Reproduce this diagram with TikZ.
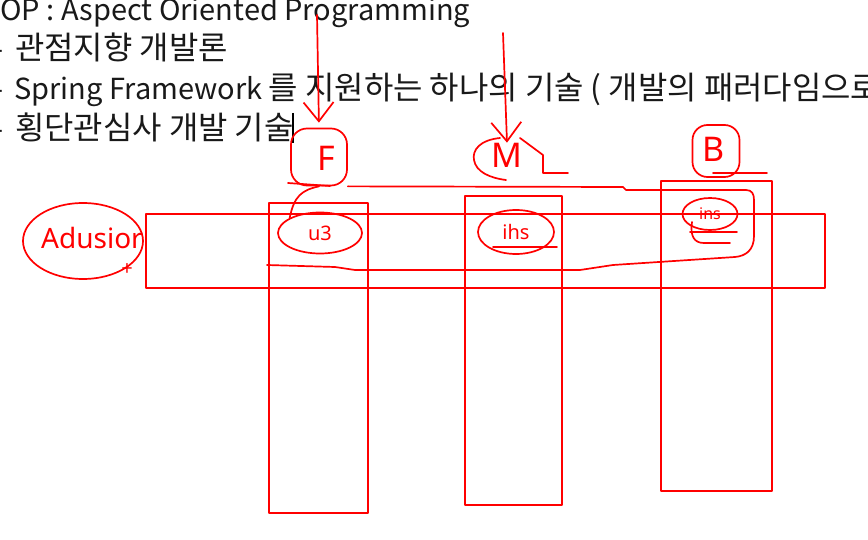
\documentclass[tikz,border=0pt]{standalone}
\usepackage{fontspec}
\setmainfont{Noto Sans CJK KR}
\newfontfamily\kr[Scale=1.1]{Noto Sans CJK KR}
\newfontfamily\hand{Noto Sans}
\usetikzlibrary{shapes.geometric,arrows.meta}
\begin{document}
\begin{tikzpicture}[x=1pt,y=-1pt,
  ink/.style={draw=red, line width=1.7pt, line cap=round, line join=round},
  txtline/.style={font=\fontsize{29}{34}\selectfont, anchor=base west, inner sep=0pt, text=black!90},
  dashmark/.style={font=\fontsize{29}{34}\selectfont, anchor=base east, inner sep=0pt, text=black!90},
  hw/.style={text=red, inner sep=0pt, font=\hand\fontsize{20}{22}\selectfont},
  big/.style={text=red, inner sep=0pt, font=\hand\fontsize{34}{36}\selectfont},
  barb/.style={-{Straight Barb[length=19pt,width=30pt,line width=1.7pt]}},
]
\useasboundingbox (0,0) rectangle (868,540);
\fill[white] (0,0) rectangle (868,540);

% text lines
\node[txtline] (t1) at (0,21) {OP : Aspect Oriented Programming};
\node[dashmark] (d2) at (4,60) {-};
\node[txtline] (t2) at (15,60) {\kr 관점지향 개발론};
\node[dashmark] (d3) at (4,100) {-};
\node[txtline] (t3) at (14,100) {Spring Framework {\kr 를 지원하는 하나의 기술 ( 개발의 패러다임으로}};
\node[dashmark] (d4) at (4,140) {-};
\node[txtline] (t4) at (15,140) {\kr 횡단관심사 개발 기술};
\draw[black, line width=1.2pt] (293,113) -- (293,143);

% rectangles
\draw[ink] (146,214) rectangle (825,288);
\draw[ink] (269,203) rectangle (368,513);
\draw[ink] (465,196) rectangle (562,505);
\draw[ink] (661,181) rectangle (772,491);

% F
\node[draw=red, line width=1.7pt, rounded corners=16pt, minimum width=56pt, minimum height=57pt] (Fbox) at (319,157) {};
\node[big] (F) at (326,158) {F};
\coordinate (Ftop) at (317,15);
\draw[ink, barb, shorten >=5pt] (Ftop) -- (Fbox.north);

% M
\node[big] (M) at (507,155) {M};
\coordinate (Mtop) at (503,33);
\draw[ink, barb] (Mtop) -- (M.north);
\draw[ink] (500,138) .. controls (480,140) and (472,150) .. (474,160) .. controls (476,172) and (490,178) .. (506,180);
\draw[ink] (520,138) -- (543,155) -- (543,173) -- (568,173);

% B
\node[draw=red, line width=1.7pt, rounded corners=15pt, minimum width=47pt, minimum height=52pt] (Bbox) at (716,151) {};
\node[big] (B) at (714,149) {B};
\draw[ink] (713,173) -- (767,173);

% enclosure loop
\draw[ink] (Fbox.south east) -- (623,187) -- (626,190) -- (746,190)
  .. controls (752,190) and (754,194) .. (754,200) -- (754,236)
  .. controls (754,250) and (746,256) .. (735,257)
  -- (613,265) -- (580,270) -- (355,270) -- (335,267) -- (267,265);

% circles
\node[ink, ellipse, minimum width=84pt, minimum height=41pt, hw] (c1) at (320,233) {u3};
\node[ink, ellipse, minimum width=76pt, minimum height=44pt, hw] (c2) at (516,232) {ihs};
\draw[ink] (493,247) -- (557,247);
\node[ink, ellipse, minimum width=55pt, minimum height=32pt, hw, font=\hand\fontsize{16}{18}\selectfont] (c3) at (710,214) {ins};
\draw[ink] (690,232) -- (737,232);
\draw[ink] (692,222) .. controls (690,236) and (694,243) .. (704,243) -- (730,243);

% F to c1
\draw[ink] (Fbox.south) .. controls (302,190) and (294,196) .. (c1.north west);
\draw[ink] (288,183) -- (330,186);

% Advisor
\node[ink, ellipse, minimum width=120pt, minimum height=76pt] (adv) at (83,241) {};
\node[hw, font=\hand\fontsize{28}{30}\selectfont] (advt) at (92,238) {Adusior};
\node[hw, font=\hand\fontsize{20}{22}\selectfont] (plus) at (127,270) {+};
\end{tikzpicture}
\end{document}
